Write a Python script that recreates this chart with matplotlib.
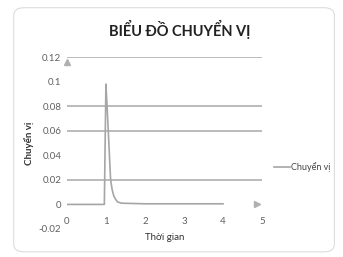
import matplotlib.pyplot as plt
from matplotlib.patches import FancyBboxPatch

# du lieu chuyen vi theo thoi gian
t = [0, 0.96, 0.98, 1.0, 1.03, 1.06, 1.09, 1.12, 1.16, 1.2, 1.25, 1.3, 1.4, 2, 3, 4]
u = [0, 0, 0.05, 0.098, 0.08, 0.06, 0.04, 0.02, 0.012, 0.007, 0.004, 0.002, 0.001, 0.0005, 0.0005, 0.0005]

x_ticks = [0, 1, 2, 3, 4, 5]
y_ticks = [0.12, 0.1, 0.08, 0.06, 0.04, 0.02, 0, -0.02]
y_labels = ['0.12', '0.1', '0.08', '0.06', '0.04', '0.02', '0', '-0.02']
grid_y = [0.12, 0.08, 0.06, 0.02]

plt.rcParams['font.family'] = ['Lato', 'DejaVu Sans']

fig = plt.figure(figsize=(3.43, 2.57), dpi=100)
fig.patches.append(FancyBboxPatch((0.04, 0.02), 0.935, 0.95, boxstyle='round,pad=0,rounding_size=0.03',
                                  transform=fig.transFigure, fc='none', ec='#dcdcdc', lw=0.8, zorder=-1))

ax = fig.add_axes([0.195, 0.109, 0.569, 0.669])
ax.set_facecolor('none')
for yy in grid_y:
    ax.axhline(yy, color='#b5b5b5', lw=1.3, zorder=1)

ax.plot(t, u, color='#a6a6a6', lw=1.2, zorder=3, label='Chuyển vị')

ax.plot([0], [0.116], marker='^', color='#b0b0b0', ms=4, clip_on=False)
ax.plot([4.87], [0], marker='>', color='#b0b0b0', ms=4, clip_on=False)

ax.set_xlim(0, 5)
ax.set_ylim(-0.02, 0.12)
ax.set_xticks(x_ticks)
ax.set_yticks(y_ticks)
ax.set_yticklabels(y_labels)
ax.spines['bottom'].set_position(('data', 0))
for s in ax.spines.values():
    s.set_color('none')
ax.tick_params(axis='x', length=0, pad=9, labelsize=7, labelcolor='#606060')
ax.tick_params(axis='y', length=0, pad=4, labelsize=7, labelcolor='#606060')

ax.set_ylabel('Chuyển vị', fontsize=7, fontweight='bold', color='#333333')
ax.yaxis.set_label_coords(-0.17, 0.5)
ax.set_xlabel('Thời gian', fontsize=7, color='#333333')
ax.xaxis.set_label_coords(0.5, -0.025)
ax.xaxis.label.set_verticalalignment('top')

fig.text(0.525, 0.885, 'BIỂU ĐỒ CHUYỂN VỊ', ha='center', va='center', fontsize=10.5, fontweight='bold', color='#222222')

ax.legend(loc='center left', bbox_to_anchor=(1.02, 0.36), frameon=False, fontsize=6.5,
          handlelength=1.8, handletextpad=0.1, labelcolor='#444444')

fig.savefig('out.png', dpi=100)
